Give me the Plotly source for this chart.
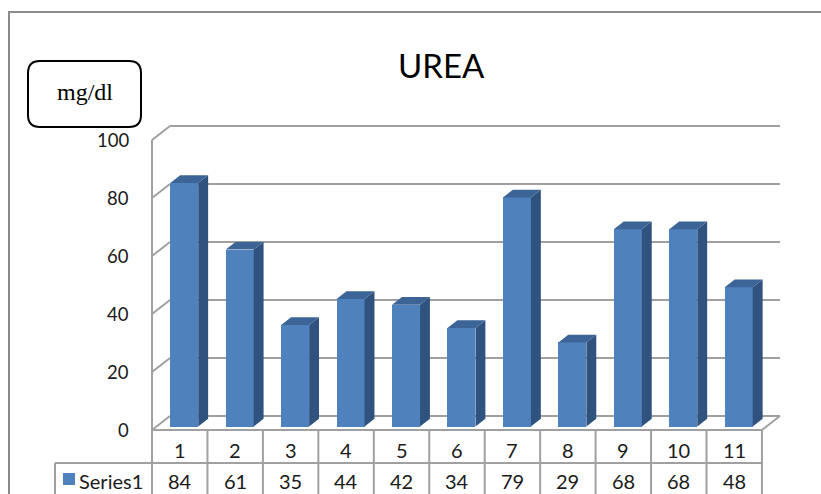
import plotly.graph_objects as go

# ---- data ----
categories = ["1", "2", "3", "4", "5", "6", "7", "8", "9", "10", "11"]
urea_values = [84, 61, 35, 44, 42, 34, 79, 29, 68, 68, 48]
series_name = "Series1"
y_ticks = [0, 20, 40, 60, 80, 100]
title_text = "UREA"
unit_text = "mg/dl"

# ---- canvas geometry ----
W, H = 821, 494
PITCH = 55.45          # px per category
PX_PER_VAL = 2.9       # px per value unit
FRONT_LEFT_PX = 152    # x px of front-left corner of the plot box
FRONT_ZERO_PX = 430    # y px of the front floor edge

DX = 18 / PITCH        # depth offset (x, data units)
DY = 14 / PX_PER_VAL   # depth offset (y, data units)
A, B = 0.25, 0.8       # depth fraction where the columns start / end
BAR_W = 28 / PITCH

FRONT = "#4F81BD"
SIDE = "#30527E"
TOP = "#3C6497"
GRID = "#A0A0A0"
TEXT = "#1a1a1a"

n = len(categories)
xs = list(range(1, n + 1))
x_lo, x_hi = 0.5, n + 0.5


def px(x):
    return x / W


def py(y):
    return 1 - y / H


fig = go.Figure()

# front faces of the columns
fig.add_trace(go.Bar(
    x=[x + A * DX for x in xs], y=urea_values, base=A * DY, width=BAR_W,
    marker=dict(color=FRONT, line=dict(width=0)), hoverinfo="skip",
))

# side and top faces
side_x, side_y, top_x, top_y = [], [], [], []
for x, v in zip(xs, urea_values):
    r = x + BAR_W / 2
    l = x - BAR_W / 2
    side_x += [r + A * DX, r + B * DX, r + B * DX, r + A * DX, r + A * DX, None]
    side_y += [A * DY, B * DY, v + B * DY, v + A * DY, A * DY, None]
    top_x += [l + A * DX, r + A * DX, r + B * DX, l + B * DX, l + A * DX, None]
    top_y += [v + A * DY, v + A * DY, v + B * DY, v + B * DY, v + A * DY, None]

fig.add_trace(go.Scatter(x=side_x, y=side_y, mode="lines", fill="toself",
                         fillcolor=SIDE, line=dict(width=0), hoverinfo="skip"))
fig.add_trace(go.Scatter(x=top_x, y=top_y, mode="lines", fill="toself",
                         fillcolor=TOP, line=dict(width=0), hoverinfo="skip"))

shapes = []
grid_line = dict(color=GRID, width=2)

# walls and gridlines
for t in y_ticks:
    shapes.append(dict(type="line", xref="x", yref="y", layer="below",
                       x0=x_lo, y0=t, x1=x_lo + DX, y1=t + DY, line=grid_line))
    shapes.append(dict(type="line", xref="x", yref="y", layer="below",
                       x0=x_lo + DX, y0=t + DY, x1=x_hi + DX, y1=t + DY, line=grid_line))
shapes.append(dict(type="line", xref="x", yref="y", layer="below",
                   x0=x_lo, y0=0, x1=x_lo, y1=y_ticks[-1], line=grid_line))
shapes.append(dict(type="line", xref="x", yref="y", layer="below",
                   x0=x_hi, y0=0, x1=x_hi + DX, y1=DY, line=grid_line))

# data table
row1_top, row2_top = FRONT_ZERO_PX, 463
shapes.append(dict(type="line", xref="x", yref="paper", x0=x_lo, x1=x_hi,
                   y0=py(row1_top), y1=py(row1_top), line=grid_line))
shapes.append(dict(type="line", xref="paper", yref="paper", x0=px(55), x1=px(FRONT_LEFT_PX),
                   y0=py(row2_top), y1=py(row2_top), line=grid_line))
shapes.append(dict(type="line", xref="x", yref="paper", x0=x_lo, x1=x_hi,
                   y0=py(row2_top), y1=py(row2_top), line=grid_line))
for k in range(n + 1):
    shapes.append(dict(type="line", xref="x", yref="paper", x0=x_lo + k, x1=x_lo + k,
                       y0=py(row1_top), y1=py(H + 5), line=grid_line))
shapes.append(dict(type="line", xref="paper", yref="paper", x0=px(55), x1=px(55),
                   y0=py(row2_top), y1=py(H + 5), line=grid_line))
# legend key
shapes.append(dict(type="rect", xref="paper", yref="paper", x0=px(63), x1=px(75),
                   y0=py(485), y1=py(473), fillcolor=FRONT, line=dict(width=0)))

# chart border
shapes.append(dict(type="path", xref="paper", yref="paper",
                   path=f"M {px(9)},{py(H + 5)} L {px(9)},{py(12)} L {px(W + 5)},{py(12)}",
                   line=dict(color="#8a8a8a", width=2)))

# rounded unit box
x0b, x1b, y0b, y1b, r = px(28), px(141), py(127), py(61), 12
rx, ry = r / W, r / H
shapes.append(dict(type="path", xref="paper", yref="paper",
                   path=(f"M {x0b + rx},{y1b} L {x1b - rx},{y1b} Q {x1b},{y1b} {x1b},{y1b - ry} "
                         f"L {x1b},{y0b + ry} Q {x1b},{y0b} {x1b - rx},{y0b} "
                         f"L {x0b + rx},{y0b} Q {x0b},{y0b} {x0b},{y0b + ry} "
                         f"L {x0b},{y1b - ry} Q {x0b},{y1b} {x0b + rx},{y1b} Z"),
                   line=dict(color="black", width=2), fillcolor="white"))

annotations = []
tick_font = dict(family="Lato, Carlito, sans-serif", size=18.5, color=TEXT)
table_font = dict(family="Lato, Carlito, sans-serif", size=20, color=TEXT)
for t in y_ticks:
    annotations.append(dict(x=px(131), xref="paper", y=t, yref="y", text=str(t),
                            showarrow=False, xanchor="right", yanchor="middle", font=tick_font))
for x, c, v in zip(xs, categories, urea_values):
    annotations.append(dict(x=x, xref="x", y=py(450), yref="paper", text=c,
                            showarrow=False, xanchor="center", yanchor="middle", font=table_font))
    annotations.append(dict(x=x, xref="x", y=py(481), yref="paper", text=str(v),
                            showarrow=False, xanchor="center", yanchor="middle", font=table_font))
annotations.append(dict(x=px(77), xref="paper", y=py(481), yref="paper", text=series_name,
                        showarrow=False, xanchor="left", yanchor="middle", font=table_font))
annotations.append(dict(x=px(441), xref="paper", y=py(65), yref="paper", text=title_text,
                        showarrow=False, xanchor="center", yanchor="middle",
                        font=dict(family="Lato, Carlito, sans-serif", size=33, color="black")))
annotations.append(dict(x=px(85), xref="paper", y=py(92), yref="paper", text=unit_text,
                        showarrow=False, xanchor="center", yanchor="middle",
                        font=dict(family="Liberation Serif, Times New Roman, serif", size=24,
                                  color="black")))

fig.update_layout(
    width=W, height=H, margin=dict(l=0, r=0, t=0, b=0),
    paper_bgcolor="white", plot_bgcolor="white", showlegend=False,
    xaxis=dict(range=[x_lo - FRONT_LEFT_PX / PITCH, x_lo + (W - FRONT_LEFT_PX) / PITCH],
               visible=False, fixedrange=True),
    yaxis=dict(range=[-(H - FRONT_ZERO_PX) / PX_PER_VAL, FRONT_ZERO_PX / PX_PER_VAL],
               visible=False, fixedrange=True),
    shapes=shapes, annotations=annotations, bargap=0,
)

fig.write_html("out.html", config={"displayModeBar": False})
